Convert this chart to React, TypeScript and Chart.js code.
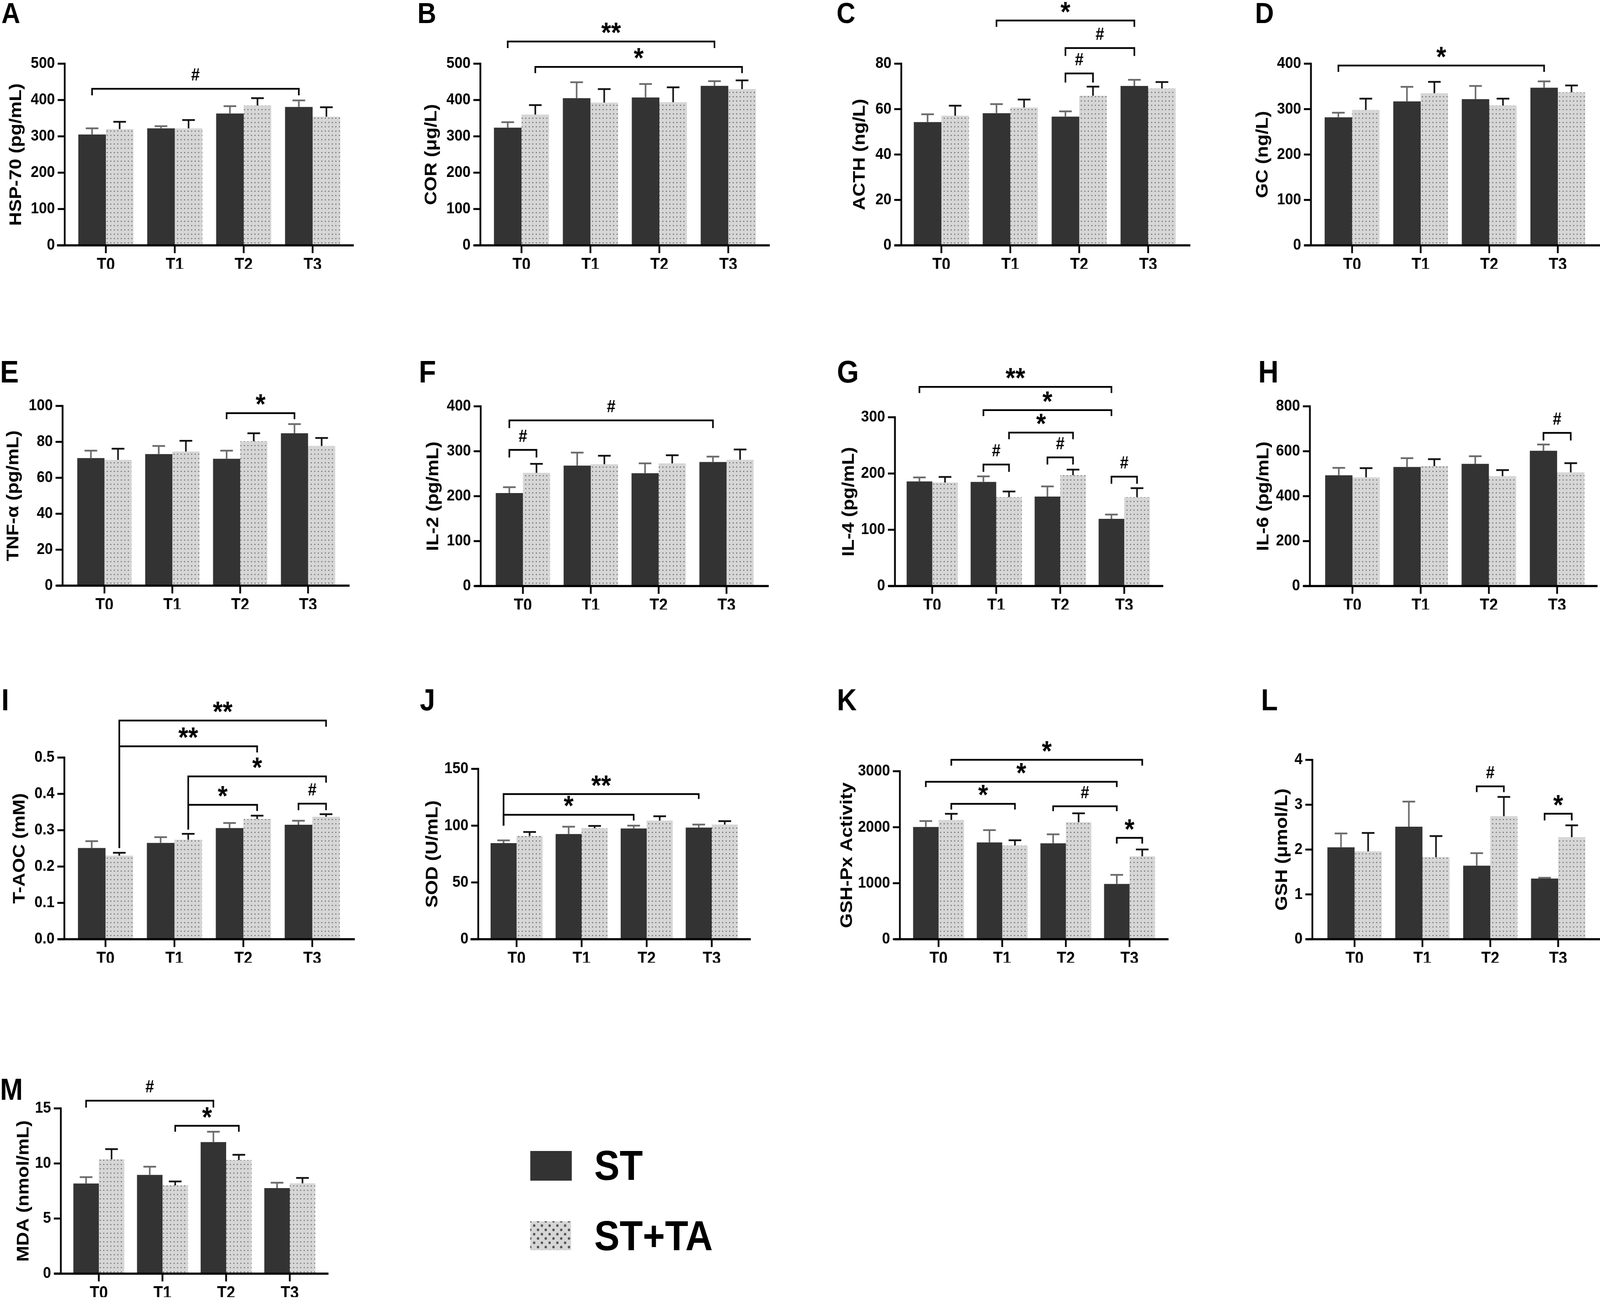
import { useEffect, useRef } from 'react';
import { Chart, registerables } from 'chart.js';

Chart.register(...registerables);

const FONT = '"Liberation Sans", Arial, Helvetica, sans-serif';
Chart.defaults.font.family = FONT;
Chart.defaults.color = '#000';

const categories = ['T0', 'T1', 'T2', 'T3'];
const seriesNames = ['ST', 'ST+TA'];

// significance bracket: [label, cat1, series1, cat2, series2, lineY, leg1End, leg2End]
type Sig = [string, number, number, number, number, number, number, number];

// A - HSP-70
const hspST = [305, 322, 363, 381];
const hspSTErr = [17, 6, 20, 18];
const hspTA = [320, 322, 385, 354];
const hspTAErr = [20, 23, 20, 26];
const hspSig: Sig[] = [['#', 0, 0, 3, 0, 431, 413, 413]];

// B - COR
const corST = [324, 405, 407, 439];
const corSTErr = [15, 44, 37, 13];
const corTA = [360, 393, 394, 430];
const corTAErr = [26, 37, 41, 24];
const corSig: Sig[] = [
  ['**', 0, 0, 3, 0, 561, 543, 543],
  ['*', 0, 1, 3, 1, 491, 474, 474],
];

// C - ACTH
const acthST = [54.3, 58.2, 56.7, 70.2];
const acthSTErr = [3.4, 4.0, 2.3, 2.7];
const acthTA = [57.1, 60.7, 65.9, 69.1];
const acthTAErr = [4.4, 3.5, 4.0, 2.8];
const acthSig: Sig[] = [
  ['*', 1, 0, 3, 0, 99.0, 96.2, 96.2],
  ['#', 2, 0, 3, 0, 86.9, 83.4, 83.4],
  ['#', 2, 0, 2, 1, 75.7, 71.7, 71.7],
];

// D - GC
const gcST = [282, 317, 322, 347];
const gcSTErr = [10, 32, 29, 14];
const gcTA = [298, 335, 308, 337];
const gcTAErr = [25, 25, 15, 15];
const gcSig: Sig[] = [['*', 0, 0, 3, 0, 396, 382, 382]];

// E - TNF-a
const tnfST = [71.0, 73.2, 70.6, 84.8];
const tnfSTErr = [4.1, 4.5, 4.5, 5.1];
const tnfTA = [70.0, 74.6, 80.3, 77.7];
const tnfTAErr = [6.2, 6.0, 4.5, 4.5];
const tnfSig: Sig[] = [['*', 2, 0, 3, 0, 96.0, 92.6, 92.6]];

// F - IL-2
const il2ST = [207, 268, 251, 276];
const il2STErr = [13, 29, 22, 12];
const il2TA = [252, 271, 273, 281];
const il2TAErr = [20, 19, 18, 23];
const il2Sig: Sig[] = [
  ['#', 0, 0, 3, 0, 368.6, 351.5, 351.5],
  ['#', 0, 0, 0, 1, 303, 286, 286],
];

// G - IL-4
const il4ST = [186, 185, 159, 119.5];
const il4STErr = [7, 10, 18, 7.5];
const il4TA = [184, 158, 197, 158];
const il4TAErr = [10, 10, 10, 16];
const il4Sig: Sig[] = [
  ['**', 0, 0, 3, 0, 354, 343, 343],
  ['*', 1, 0, 3, 0, 312.7, 302, 302],
  ['*', 1, 1, 2, 1, 272.7, 261, 261],
  ['#', 1, 0, 1, 1, 216, 203, 203],
  ['#', 2, 0, 2, 1, 228.7, 216, 216],
  ['#', 3, 0, 3, 1, 194.4, 181.7, 181.7],
];

// H - IL-6
const il6ST = [493, 530, 544, 602];
const il6STErr = [33, 39, 34, 28];
const il6TA = [484, 534, 489, 506];
const il6TAErr = [41, 31, 27, 41];
const il6Sig: Sig[] = [['#', 3, 0, 3, 1, 681.6, 648, 648]];

// I - T-AOC
const taocST = [0.251, 0.265, 0.306, 0.315];
const taocSTErr = [0.019, 0.016, 0.014, 0.011];
const taocTA = [0.23, 0.274, 0.331, 0.337];
const taocTAErr = [0.008, 0.016, 0.009, 0.007];
const taocSig: Sig[] = [
  ['**', 0, 1, 3, 1, 0.602, 0.251, 0.585],
  ['**', 0, 1, 2, 1, 0.531, 0.251, 0.514],
  ['*', 1, 1, 3, 1, 0.448, 0.302, 0.431],
  ['*', 1, 1, 2, 1, 0.37, 0.302, 0.353],
  ['#', 3, 0, 3, 1, 0.373, 0.355, 0.355],
];

// J - SOD
const sodST = [84.6, 92.6, 97.5, 98.3];
const sodSTErr = [2.4, 6.5, 2.5, 2.7];
const sodTA = [91.0, 97.7, 104.5, 101];
const sodTAErr = [3.4, 2.1, 3.8, 3.0];
const sodSig: Sig[] = [
  ['**', 0, 0, 3, 0, 127.8, 100, 123.5],
  ['*', 0, 0, 2, 0, 109.6, 100, 104.5],
];

// K - GSH-Px
const gpxST = [2004, 1729, 1713, 987];
const gpxSTErr = [106, 219, 160, 162];
const gpxTA = [2129, 1675, 2089, 1481];
const gpxTAErr = [110, 91, 160, 122];
const gpxSig: Sig[] = [
  ['*', 0, 1, 3, 1, 3204, 3100, 3100],
  ['*', 0, 0, 3, 0, 2812, 2718, 2718],
  ['*', 0, 1, 1, 1, 2418, 2317, 2317],
  ['#', 2, 0, 3, 0, 2374, 2286, 2286],
  ['*', 3, 0, 3, 1, 1810, 1707, 1707],
];

// L - GSH
const gshST = [2.05, 2.51, 1.64, 1.353];
const gshSTErr = [0.31, 0.56, 0.28, 0.017];
const gshTA = [1.96, 1.83, 2.745, 2.276];
const gshTAErr = [0.41, 0.47, 0.43, 0.264];
const gshSig: Sig[] = [
  ['#', 2, 0, 2, 1, 3.41, 3.28, 3.28],
  ['*', 3, 0, 3, 1, 2.8, 2.65, 2.65],
];

// M - MDA
const mdaST = [8.18, 8.96, 11.94, 7.76];
const mdaSTErr = [0.58, 0.75, 0.94, 0.49];
const mdaTA = [10.37, 8.01, 10.31, 8.2];
const mdaTAErr = [0.93, 0.36, 0.48, 0.49];
const mdaSig: Sig[] = [
  ['#', 0, 0, 2, 0, 15.7, 15.07, 15.07],
  ['*', 1, 1, 2, 1, 13.42, 12.88, 12.88],
];

interface PanelData {
  letter: string;
  title: string;
  max: number;
  step: number;
  decimals: number;
  st: number[];
  stErr: number[];
  ta: number[];
  taErr: number[];
  sig: Sig[];
}

const panels: PanelData[] = [
  { letter: 'A', title: 'HSP-70 (pg/mL)', max: 500, step: 100, decimals: 0, st: hspST, stErr: hspSTErr, ta: hspTA, taErr: hspTAErr, sig: hspSig },
  { letter: 'B', title: 'COR (μg/L)', max: 500, step: 100, decimals: 0, st: corST, stErr: corSTErr, ta: corTA, taErr: corTAErr, sig: corSig },
  { letter: 'C', title: 'ACTH (ng/L)', max: 80, step: 20, decimals: 0, st: acthST, stErr: acthSTErr, ta: acthTA, taErr: acthTAErr, sig: acthSig },
  { letter: 'D', title: 'GC (ng/L)', max: 400, step: 100, decimals: 0, st: gcST, stErr: gcSTErr, ta: gcTA, taErr: gcTAErr, sig: gcSig },
  { letter: 'E', title: 'TNF-α (pg/mL)', max: 100, step: 20, decimals: 0, st: tnfST, stErr: tnfSTErr, ta: tnfTA, taErr: tnfTAErr, sig: tnfSig },
  { letter: 'F', title: 'IL-2 (pg/mL)', max: 400, step: 100, decimals: 0, st: il2ST, stErr: il2STErr, ta: il2TA, taErr: il2TAErr, sig: il2Sig },
  { letter: 'G', title: 'IL-4 (pg/mL)', max: 300, step: 100, decimals: 0, st: il4ST, stErr: il4STErr, ta: il4TA, taErr: il4TAErr, sig: il4Sig },
  { letter: 'H', title: 'IL-6 (pg/mL)', max: 800, step: 200, decimals: 0, st: il6ST, stErr: il6STErr, ta: il6TA, taErr: il6TAErr, sig: il6Sig },
  { letter: 'I', title: 'T-AOC (mM)', max: 0.5, step: 0.1, decimals: 1, st: taocST, stErr: taocSTErr, ta: taocTA, taErr: taocTAErr, sig: taocSig },
  { letter: 'J', title: 'SOD (U/mL)', max: 150, step: 50, decimals: 0, st: sodST, stErr: sodSTErr, ta: sodTA, taErr: sodTAErr, sig: sodSig },
  { letter: 'K', title: 'GSH-Px Activity', max: 3000, step: 1000, decimals: 0, st: gpxST, stErr: gpxSTErr, ta: gpxTA, taErr: gpxTAErr, sig: gpxSig },
  { letter: 'L', title: 'GSH (μmol/L)', max: 4, step: 1, decimals: 0, st: gshST, stErr: gshSTErr, ta: gshTA, taErr: gshTAErr, sig: gshSig },
  { letter: 'M', title: 'MDA (nmol/mL)', max: 15, step: 5, decimals: 0, st: mdaST, stErr: mdaSTErr, ta: mdaTA, taErr: mdaTAErr, sig: mdaSig },
];

// page geometry, absolute pixels
interface Geo {
  box: [number, number, number, number];
  axisX: number;
  top: number;
  zero: number;
  cat0: number;
  gap: number;
  xStart: number;
  xEnd: number;
  titleX: number;
  letterX: number;
  letterBase: number;
  letterSize: number;
}

const PAGE_W = 4550;
const PAGE_H = 3330;
const cols = [[0, 1140], [1140, 1200], [2340, 1190], [3530, 1020]];
const rows = [[0, 740], [860, 720], [1740, 780], [2700, 630]];
const box = (c: number, r: number): [number, number, number, number] => [cols[c][0], rows[r][0], cols[c][1], rows[r][1]];

const geometry: Geo[] = [
  { box: box(0, 0), axisX: 184, top: 163, zero: 628, cat0: 301, gap: 196, xStart: 162, xEnd: 1006, titleX: 46, letterX: 4, letterBase: 59, letterSize: 74 },
  { box: box(1, 0), axisX: 1366, top: 163, zero: 628, cat0: 1483, gap: 196, xStart: 1347, xEnd: 2189, titleX: 1227, letterX: 1187, letterBase: 59, letterSize: 74 },
  { box: box(2, 0), axisX: 2563, top: 163, zero: 628, cat0: 2677, gap: 196, xStart: 2543, xEnd: 3385, titleX: 2445, letterX: 2379, letterBase: 59, letterSize: 74 },
  { box: box(3, 0), axisX: 3728, top: 163, zero: 628, cat0: 3845, gap: 195, xStart: 3709, xEnd: 4550, titleX: 3591, letterX: 3569, letterBase: 59, letterSize: 74 },
  { box: box(0, 1), axisX: 178, top: 1039, zero: 1499, cat0: 297, gap: 193, xStart: 161, xEnd: 994, titleX: 38, letterX: 0, letterBase: 979, letterSize: 80 },
  { box: box(1, 1), axisX: 1367, top: 1040, zero: 1500, cat0: 1487, gap: 193, xStart: 1350, xEnd: 2186, titleX: 1232, letterX: 1191, letterBase: 979, letterSize: 80 },
  { box: box(2, 1), axisX: 2545, top: 1068, zero: 1500, cat0: 2651, gap: 182, xStart: 2526, xEnd: 3308, titleX: 2414, letterX: 2380, letterBase: 979, letterSize: 80 },
  { box: box(3, 1), axisX: 3725, top: 1040, zero: 1500, cat0: 3846, gap: 194, xStart: 3706, xEnd: 4543, titleX: 3593, letterX: 3578, letterBase: 979, letterSize: 80 },
  { box: box(0, 2), axisX: 183, top: 1939, zero: 2404, cat0: 300, gap: 196, xStart: 164, xEnd: 1009, titleX: 56, letterX: 4, letterBase: 1818, letterSize: 78 },
  { box: box(1, 2), axisX: 1360, top: 1968, zero: 2404, cat0: 1469, gap: 185, xStart: 1338, xEnd: 2135, titleX: 1230, letterX: 1194, letterBase: 1818, letterSize: 78 },
  { box: box(2, 2), axisX: 2559, top: 1974, zero: 2404, cat0: 2669, gap: 181, xStart: 2543, xEnd: 3323, titleX: 2409, letterX: 2380, letterBase: 1818, letterSize: 78 },
  { box: box(3, 2), axisX: 3732, top: 1945, zero: 2404, cat0: 3852, gap: 193, xStart: 3713, xEnd: 4550, titleX: 3646, letterX: 3586, letterBase: 1818, letterSize: 78 },
  { box: box(0, 3), axisX: 173, top: 2837, zero: 3267, cat0: 281, gap: 181, xStart: 154, xEnd: 934, titleX: 67, letterX: 0, letterBase: 2815, letterSize: 78 },
];

const DARK = '#333333';
const X_AXIS_H = 60;

function makeDots(ctx: CanvasRenderingContext2D) {
  const c = document.createElement('canvas');
  c.width = 10;
  c.height = 11;
  const g = c.getContext('2d')!;
  g.fillStyle = '#d6d6d6';
  g.fillRect(0, 0, 10, 11);
  g.fillStyle = '#5a5a5a';
  g.beginPath();
  g.arc(5, 5.5, 1.5, 0, Math.PI * 2);
  g.fill();
  return ctx.createPattern(c, 'repeat');
}

function decorPlugin(data: PanelData, geo: Geo) {
  const [bx, by] = geo.box;
  return {
    id: 'decor',
    afterDatasetsDraw(chart: any) {
      const { ctx } = chart;
      const y = chart.scales.y;
      ctx.save();
      ctx.lineWidth = 4.5;
      [data.stErr, data.taErr].forEach((errs, d) => {
        const means = d === 0 ? data.st : data.ta;
        ctx.strokeStyle = d === 0 ? '#6b6b6b' : '#111';
        chart.getDatasetMeta(d).data.forEach((bar: any, i: number) => {
          const y0 = y.getPixelForValue(means[i]);
          const y1 = y.getPixelForValue(means[i] + errs[i]);
          ctx.beginPath();
          ctx.moveTo(bar.x, y0);
          ctx.lineTo(bar.x, y1);
          ctx.moveTo(bar.x - 18, y1);
          ctx.lineTo(bar.x + 18, y1);
          ctx.stroke();
        });
      });
      ctx.restore();
    },
    afterDraw(chart: any) {
      const { ctx } = chart;
      const x = chart.scales.x;
      const y = chart.scales.y;
      const ax = geo.axisX - bx;
      const zeroPx = y.getPixelForValue(0);
      const topPx = y.getPixelForValue(data.max);
      ctx.save();
      ctx.strokeStyle = '#000';
      ctx.fillStyle = '#000';

      // axes
      ctx.lineWidth = 5;
      ctx.beginPath();
      ctx.moveTo(ax, topPx - 2.5);
      ctx.lineTo(ax, zeroPx);
      ctx.stroke();
      y.ticks.forEach((t: any) => {
        const p = y.getPixelForValue(t.value);
        ctx.beginPath();
        ctx.moveTo(ax - 20, p);
        ctx.lineTo(ax, p);
        ctx.stroke();
      });
      ctx.lineWidth = 5.5;
      ctx.beginPath();
      ctx.moveTo(geo.xStart - bx, zeroPx);
      ctx.lineTo(geo.xEnd - bx, zeroPx);
      ctx.stroke();
      ctx.lineWidth = 5;
      categories.forEach((_, i) => {
        const p = x.getPixelForValue(i);
        ctx.beginPath();
        ctx.moveTo(p, zeroPx);
        ctx.lineTo(p, zeroPx + 20);
        ctx.stroke();
      });

      // significance brackets
      ctx.lineWidth = 4.5;
      ctx.lineJoin = 'miter';
      ctx.textAlign = 'center';
      ctx.textBaseline = 'alphabetic';
      data.sig.forEach(([label, c1, s1, c2, s2, ly, l1, l2]) => {
        const x1 = chart.getDatasetMeta(s1).data[c1].x;
        const x2 = chart.getDatasetMeta(s2).data[c2].x;
        const py = y.getPixelForValue(ly);
        ctx.beginPath();
        ctx.moveTo(x1, y.getPixelForValue(l1));
        ctx.lineTo(x1, py);
        ctx.lineTo(x2, py);
        ctx.lineTo(x2, y.getPixelForValue(l2));
        ctx.stroke();
        ctx.font = `bold ${label.includes('*') ? 72 : 44}px ${FONT}`;
        const m = ctx.measureText(label);
        ctx.fillText(label, (x1 + x2) / 2, py - 21 - m.actualBoundingBoxDescent);
      });

      // panel letter
      ctx.textAlign = 'left';
      ctx.font = `bold ${geo.letterSize}px ${FONT}`;
      ctx.fillText(data.letter, geo.letterX - bx, geo.letterBase - by);
      ctx.restore();
    },
  };
}

function Panel({ data, geo }: { data: PanelData; geo: Geo }) {
  const ref = useRef<HTMLCanvasElement>(null);
  const [bx, by, bw, bh] = geo.box;

  useEffect(() => {
    const canvas = ref.current;
    if (!canvas) return;
    const ctx = canvas.getContext('2d')!;
    const chartLeft = geo.cat0 - geo.gap / 2;
    const chartRight = geo.cat0 + geo.gap * 3.5;

    const chart = new Chart(canvas, {
      type: 'bar',
      data: {
        labels: categories,
        datasets: [
          { label: seriesNames[0], data: data.st, backgroundColor: DARK, borderWidth: 0, categoryPercentage: 0.8, barPercentage: 1 },
          { label: seriesNames[1], data: data.ta, backgroundColor: makeDots(ctx) as any, borderWidth: 0, categoryPercentage: 0.8, barPercentage: 1 },
        ],
      },
      options: {
        responsive: false,
        animation: false,
        devicePixelRatio: 1,
        layout: {
          autoPadding: false,
          padding: {
            left: 0,
            top: geo.top - by,
            right: bx + bw - chartRight,
            bottom: by + bh - geo.zero - X_AXIS_H,
          },
        },
        plugins: { legend: { display: false }, tooltip: { enabled: false } },
        scales: {
          x: {
            grid: { display: false, drawTicks: false },
            border: { display: false },
            ticks: {
              font: { size: 44, weight: 'bold', family: FONT },
              color: '#000',
              padding: 24.6,
              maxRotation: 0,
              autoSkip: false,
            },
            afterFit: (s: any) => {
              s.height = X_AXIS_H;
            },
          },
          y: {
            min: 0,
            max: data.max,
            grid: { display: false, drawTicks: false },
            border: { display: false },
            ticks: {
              stepSize: data.step,
              font: { size: 41, weight: 'bold', family: FONT },
              color: '#000',
              padding: chartLeft - geo.axisX + 28,
              callback: (v: any) => Number(v).toFixed(data.decimals),
            },
            title: {
              display: true,
              text: data.title,
              color: '#000',
              font: { size: 49, weight: 'bold', family: FONT },
              padding: { top: geo.titleX - bx - 29.4, bottom: 0 },
            },
            afterFit: (s: any) => {
              s.width = chartLeft - bx;
            },
          },
        },
      },
      plugins: [decorPlugin(data, geo)],
    });

    return () => chart.destroy();
  }, [data, geo]);

  return (
    <canvas
      ref={ref}
      width={bw}
      height={bh}
      style={{ position: 'absolute', left: bx, top: by, width: bw, height: bh }}
    />
  );
}

function Legend() {
  const text = { position: 'absolute' as const, left: 1690, font: `bold 108px ${FONT}`, lineHeight: '108px', color: '#000', whiteSpace: 'nowrap' as const };
  const dot = 'radial-gradient(circle, #555 3.2px, transparent 3.8px)';
  return (
    <>
      <div style={{ position: 'absolute', left: 1508, top: 2946, width: 118, height: 76, background: DARK }} />
      <div style={{ ...text, top: 2929 }}>{seriesNames[0]}</div>
      <div
        style={{
          position: 'absolute',
          left: 1508,
          top: 3126,
          width: 116,
          height: 74,
          backgroundColor: '#d6d6d6',
          backgroundImage: `${dot}, ${dot}`,
          backgroundSize: '22px 22px',
          backgroundPosition: '0 0, 11px 11px',
        }}
      />
      <div style={{ ...text, top: 3109 }}>{seriesNames[1]}</div>
    </>
  );
}

export default function App() {
  // fit the fixed-size figure into the actual window (identity when the window is 4550x3330)
  const sx = typeof window !== 'undefined' && window.innerWidth ? window.innerWidth / PAGE_W : 1;
  const sy = typeof window !== 'undefined' && window.innerHeight ? window.innerHeight / PAGE_H : 1;
  return (
    <div
      style={{
        position: 'absolute',
        left: 0,
        top: 0,
        width: PAGE_W,
        height: PAGE_H,
        background: '#fff',
        overflow: 'hidden',
        transform: `scale(${sx}, ${sy})`,
        transformOrigin: '0 0',
      }}
    >
      {panels.map((p, i) => (
        <Panel key={p.letter} data={p} geo={geometry[i]} />
      ))}
      <Legend />
    </div>
  );
}
